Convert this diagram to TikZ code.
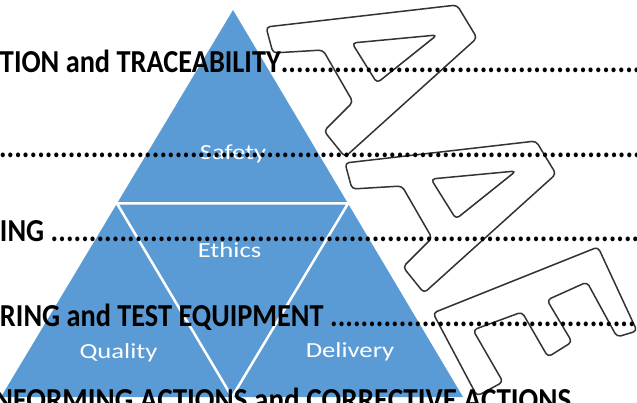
\documentclass[tikz,border=0pt]{standalone}
\usepackage{fontspec}
\usepackage{graphicx}
\setmainfont{Carlito}
\definecolor{triblue}{RGB}{91,155,213}
\begin{document}
\begin{tikzpicture}[x=1pt,y=-1pt,
  blk/.style={anchor=base west, inner sep=0pt, outer sep=0pt, text=black, font=\fontsize{32}{38}\selectfont\bfseries},
  lbl/.style={anchor=base, inner sep=0pt, outer sep=0pt, text=white, font=\fontsize{21.5}{24}\selectfont},
  letter/.style={draw=black!80, line width=1.5pt, rounded corners=4pt, line join=round},
  divider/.style={draw=white, line width=2.5pt}]
\useasboundingbox (0,0) rectangle (637,403);
\fill[white] (0,0) rectangle (637,403);
% pyramid
\fill[triblue] (233,10) -- (463,397) -- (1,397) -- cycle;
\coordinate (ml) at (117,203.5);
\coordinate (mr) at (348,203.5);
\coordinate (mb) at (232,397);
\draw[divider] (ml) -- (mr) -- (mb) -- cycle;
% labels in the pyramid
\node[lbl] (safety) at (233,160) {\scalebox{1.24}[1]{Safety}};
\node[lbl] (ethics) at (229.5,258) {\scalebox{1.24}[1]{Ethics}};
\node[lbl] (quality) at (118.5,358) {\scalebox{1.24}[1]{Quality}};
\node[lbl] (delivery) at (350,357) {\scalebox{1.24}[1]{Delivery}};
% watermark letters A A E
\draw[letter] (266,27) -- (457,5) -- (477,38) -- (345,157) -- (324,131) -- (353,102) -- (323,50) -- (273,53) -- cycle
  (352,43) -- (437,35) -- (377,83) -- cycle;
\begin{scope}[shift={(79,136)}]
\draw[letter] (266,27) -- (457,5) -- (477,38) -- (345,157) -- (324,131) -- (353,102) -- (323,50) -- (273,53) -- cycle
  (352,43) -- (437,35) -- (377,83) -- cycle;
\end{scope}
\draw[letter] (433,313) -- (598,247) -- (637,331) -- (617,337) -- (587,282) -- (547,300) -- (572,342) -- (548,357)
  -- (522,312) -- (473,330) -- (503,382) -- (477,396) -- cycle;
% text lines
\node[blk] (l1) at (0,73) {\scalebox{0.885}[1]{TION and TRACEABILITY\xleaders\hbox{.}\hskip 450pt}};
\node[blk] (l2) at (-1,157.3) {\scalebox{0.885}[1]{\xleaders\hbox{.}\hskip 760pt}};
\node[blk] (l3) at (0,241.6) {\scalebox{0.885}[1]{ING \xleaders\hbox{.}\hskip 700pt}};
\node[blk] (l4) at (0,326) {\scalebox{0.885}[1]{RING and TEST EQUIPMENT \xleaders\hbox{.}\hskip 380pt}};
\node[blk] (l5) at (-6,410.3) {\scalebox{0.91}[1]{NFORMING ACTIONS and CORRECTIVE ACTIONS}};
\end{tikzpicture}
\end{document}
